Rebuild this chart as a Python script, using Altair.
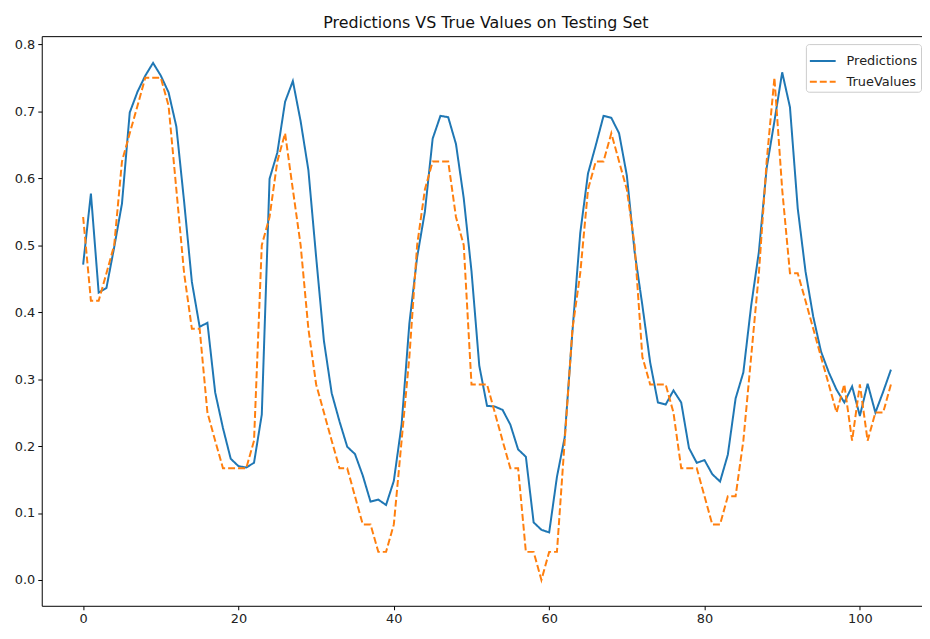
import altair as alt
import pandas as pd

x_index = list(range(105))

predictions = [
    0.471, 0.577, 0.429, 0.436, 0.497, 0.562, 0.698, 0.729, 0.753, 0.772,
    0.753, 0.728, 0.677, 0.565, 0.445, 0.378, 0.384, 0.280, 0.227, 0.181,
    0.170, 0.168, 0.175, 0.247, 0.599, 0.638, 0.714, 0.745, 0.685, 0.612,
    0.482, 0.357, 0.279, 0.237, 0.199, 0.188, 0.156, 0.117, 0.120, 0.112,
    0.148, 0.232, 0.383, 0.482, 0.550, 0.659, 0.693, 0.691, 0.651, 0.570,
    0.461, 0.320, 0.260, 0.259, 0.254, 0.232, 0.195, 0.184, 0.086, 0.075,
    0.071, 0.154, 0.213, 0.372, 0.518, 0.607, 0.649, 0.693, 0.690, 0.667,
    0.604, 0.490, 0.410, 0.325, 0.265, 0.262, 0.283, 0.265, 0.197, 0.175,
    0.179, 0.158, 0.147, 0.187, 0.271, 0.310, 0.409, 0.490, 0.615, 0.685,
    0.758, 0.706, 0.555, 0.461, 0.393, 0.341, 0.310, 0.284, 0.265, 0.289,
    0.245, 0.293, 0.250, 0.281, 0.314,
]

true_values = [
    0.542, 0.417, 0.417, 0.458, 0.500, 0.625, 0.667, 0.708, 0.750, 0.750,
    0.750, 0.708, 0.583, 0.458, 0.375, 0.375, 0.250, 0.208, 0.167, 0.167,
    0.167, 0.167, 0.208, 0.500, 0.542, 0.625, 0.667, 0.583, 0.500, 0.375,
    0.292, 0.250, 0.208, 0.167, 0.167, 0.125, 0.083, 0.083, 0.042, 0.042,
    0.083, 0.208, 0.333, 0.500, 0.583, 0.625, 0.625, 0.625, 0.542, 0.500,
    0.292, 0.292, 0.292, 0.250, 0.208, 0.167, 0.167, 0.042, 0.042, 0.000,
    0.042, 0.042, 0.208, 0.375, 0.458, 0.583, 0.625, 0.625, 0.667, 0.625,
    0.583, 0.500, 0.333, 0.292, 0.292, 0.292, 0.250, 0.167, 0.167, 0.167,
    0.125, 0.083, 0.083, 0.125, 0.125, 0.208, 0.333, 0.458, 0.625, 0.750,
    0.583, 0.458, 0.458, 0.417, 0.375, 0.333, 0.292, 0.250, 0.292, 0.208,
    0.292, 0.208, 0.250, 0.250, 0.292,
]

series_names = ["Predictions", "TrueValues"]
series_colors = ["#1f77b4", "#ff7f0e"]
series_dashes = [[1, 0], [7, 3]]
x_ticks = [0, 20, 40, 60, 80, 100]
y_ticks = [0.0, 0.1, 0.2, 0.3, 0.4, 0.5, 0.6, 0.7, 0.8]
title_text = "Predictions VS True Values on Testing Set"

df = pd.DataFrame({
    "x": x_index + x_index,
    "value": predictions + true_values,
    "series": [series_names[0]] * len(x_index) + [series_names[1]] * len(x_index),
})

FONT = "DejaVu Sans"

legend = alt.Legend(
    title=None,
    orient="none",
    legendX=770,
    legendY=8,
    symbolType="stroke",
    symbolSize=676,
    symbolStrokeWidth=2,
    labelFontSize=13,
    labelFont=FONT,
    labelColor="#222222",
    labelOffset=10,
    strokeColor="#cccccc",
    fillColor="white",
    cornerRadius=3,
    padding=3,
    rowPadding=-9,
)

x_domain = [-5.33, 108.0]
y_domain = [-0.0385, 0.812]

lines = alt.Chart(df).mark_line(strokeWidth=2, clip=True).encode(
    x=alt.X("x:Q", scale=alt.Scale(domain=x_domain, nice=False, zero=False),
            axis=alt.Axis(values=x_ticks, format="d", title=None, grid=False,
                          orient="bottom")),
    y=alt.Y("value:Q", scale=alt.Scale(domain=y_domain, nice=False, zero=False),
            axis=alt.Axis(values=y_ticks, format=".1f", title=None, grid=False)),
    color=alt.Color("series:N",
                    scale=alt.Scale(domain=series_names, range=series_colors),
                    legend=legend),
    strokeDash=alt.StrokeDash("series:N",
                              scale=alt.Scale(domain=series_names, range=series_dashes),
                              legend=legend),
    order=alt.Order("x:Q"),
)

frame_top = alt.Chart(df).mark_point(opacity=0).encode(
    x=alt.X("x:Q", scale=alt.Scale(domain=x_domain, nice=False, zero=False),
            axis=alt.Axis(orient="top", labels=False, ticks=False, title=None,
                          grid=False, domain=True)),
)

chart = alt.layer(lines, frame_top).resolve_scale(
    x="independent"
).properties(
    width=887,
    height=574,
    title=alt.TitleParams(title_text, fontSize=16, font=FONT, fontWeight="normal",
                          color="#111111", offset=5, dx=4),
    autosize=alt.AutoSizeParams(type="none"),
    padding={"left": 34, "top": 26, "right": 0, "bottom": 19},
).configure_view(
    stroke=None
).configure_axis(
    domainColor="#000000",
    domainWidth=1,
    tickColor="#000000",
    tickSize=4,
    tickWidth=1,
    labelFont=FONT,
    labelFontSize=13,
    labelColor="#222222",
    labelPadding=3,
)

chart.save("out.html", embed_options={"renderer": "svg", "actions": False})
